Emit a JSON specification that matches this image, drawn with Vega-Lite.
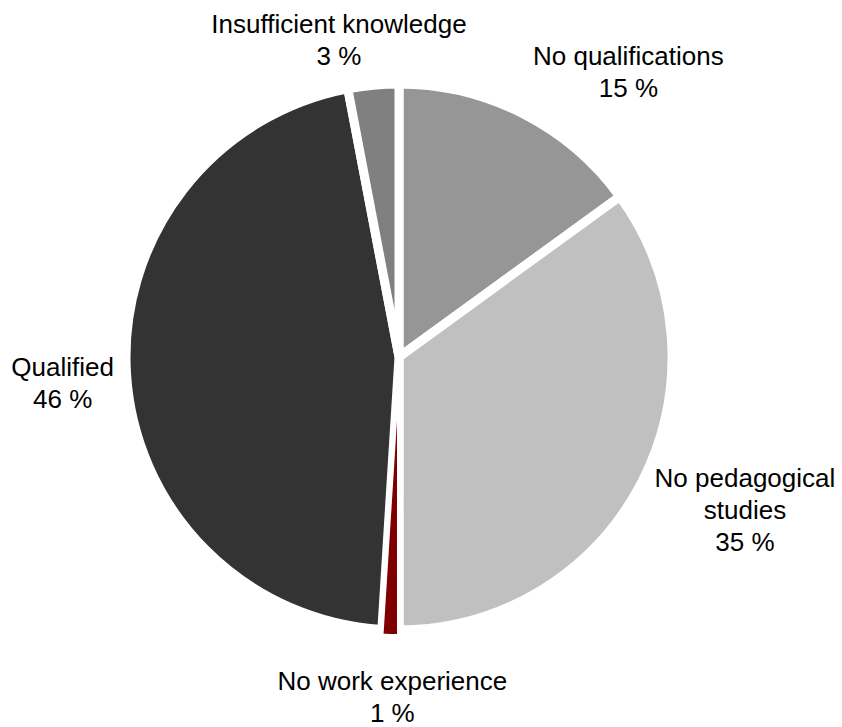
{
  "$schema": "https://vega.github.io/schema/vega-lite/v6.json",
  "width": 798,
  "height": 714,
  "autosize": "none",
  "padding": {"left": 0, "top": 0, "right": 44, "bottom": 13},
  "background": "white",
  "data": {
    "values": [
      {"category": "No qualifications", "pct": 15, "order": 1, "label": "No qualifications\n15 %"},
      {"category": "No pedagogical studies", "pct": 35, "order": 2, "label": "No pedagogical\nstudies\n35 %"},
      {"category": "No work experience", "pct": 1, "order": 3, "label": "No work experience\n1 %"},
      {"category": "Qualified", "pct": 46, "order": 4, "label": "Qualified\n46 %"},
      {"category": "Insufficient knowledge", "pct": 3, "order": 5, "label": "Insufficient knowledge\n3 %"}
    ]
  },
  "encoding": {
    "theta": {"field": "pct", "type": "quantitative", "stack": true},
    "order": {"field": "order", "type": "quantitative"}
  },
  "layer": [
    {
      "mark": {"type": "arc", "outerRadius": 273, "stroke": "white", "strokeWidth": 9},
      "encoding": {
        "color": {
          "field": "category",
          "type": "nominal",
          "scale": {
            "domain": ["No qualifications", "No pedagogical studies", "No work experience", "Qualified", "Insufficient knowledge"],
            "range": ["#969696", "#c0c0c0", "#800000", "#333333", "#808080"]
          },
          "legend": null
        }
      }
    },
    {
      "mark": {"type": "arc", "outerRadius": 279, "stroke": "white", "strokeWidth": 4},
      "encoding": {
        "color": {"field": "category", "type": "nominal", "legend": null},
        "opacity": {"condition": {"test": "datum.category === 'No work experience'", "value": 1}, "value": 0}
      }
    },
    {
      "mark": {"type": "text", "radius": 340, "dx": 75, "dy": 11, "font": "Liberation Sans", "fontSize": 26, "lineHeight": 32, "baseline": "alphabetic", "align": "center", "lineBreak": "\n", "color": "black"},
      "encoding": {"text": {"condition": {"test": "datum.category === 'No qualifications'", "field": "label", "type": "nominal"}, "value": ""}}
    },
    {
      "mark": {"type": "text", "radius": 340, "dx": 43, "dy": -24, "font": "Liberation Sans", "fontSize": 26, "lineHeight": 32, "baseline": "alphabetic", "align": "center", "lineBreak": "\n", "color": "black"},
      "encoding": {"text": {"condition": {"test": "datum.category === 'No pedagogical studies'", "field": "label", "type": "nominal"}, "value": ""}}
    },
    {
      "mark": {"type": "text", "radius": 340, "dx": 4, "dy": -7, "font": "Liberation Sans", "fontSize": 26, "lineHeight": 32, "baseline": "alphabetic", "align": "center", "lineBreak": "\n", "color": "black"},
      "encoding": {"text": {"condition": {"test": "datum.category === 'No work experience'", "field": "label", "type": "nominal"}, "value": ""}}
    },
    {
      "mark": {"type": "text", "radius": 340, "dx": 3, "dy": -2, "font": "Liberation Sans", "fontSize": 26, "lineHeight": 32, "baseline": "alphabetic", "align": "center", "lineBreak": "\n", "color": "black"},
      "encoding": {"text": {"condition": {"test": "datum.category === 'Qualified'", "field": "label", "type": "nominal"}, "value": ""}}
    },
    {
      "mark": {"type": "text", "radius": 340, "dx": -28, "dy": 14, "font": "Liberation Sans", "fontSize": 26, "lineHeight": 32, "baseline": "alphabetic", "align": "center", "lineBreak": "\n", "color": "black"},
      "encoding": {"text": {"condition": {"test": "datum.category === 'Insufficient knowledge'", "field": "label", "type": "nominal"}, "value": ""}}
    }
  ],
  "config": {"view": {"stroke": null}}
}
